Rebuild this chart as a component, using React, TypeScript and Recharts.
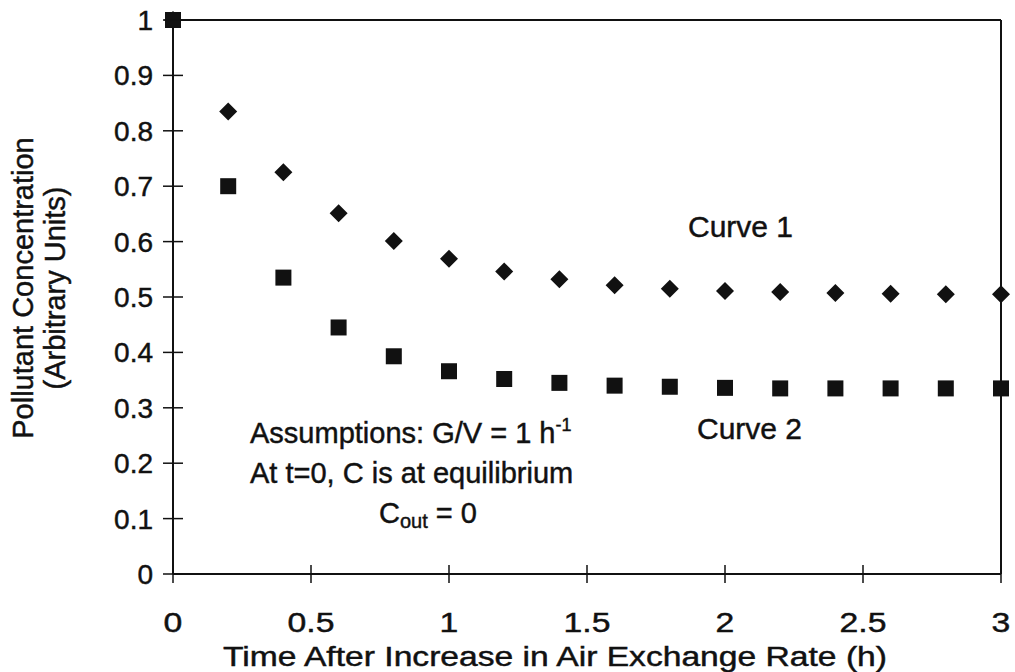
import React from 'react'
import { ScatterChart, Scatter, XAxis, YAxis, ReferenceLine, Customized } from 'recharts'

const FONT = '"Liberation Sans", Arial, Helvetica, sans-serif'
const INK = '#111111'

// time after the increase (h)
const times = [0, 0.2, 0.4, 0.6, 0.8, 1.0, 1.2, 1.4, 1.6, 1.8, 2.0, 2.2, 2.4, 2.6, 2.8, 3.0]
// curve 1 (diamonds)
const curve1 = [1.0, 0.835, 0.725, 0.651, 0.601, 0.569, 0.546, 0.532, 0.521, 0.515, 0.511, 0.509, 0.507, 0.506, 0.505, 0.505]
// curve 2 (squares)
const curve2 = [1.0, 0.70, 0.535, 0.445, 0.393, 0.366, 0.352, 0.345, 0.340, 0.338, 0.336, 0.335, 0.335, 0.335, 0.335, 0.335]

const xTicks = [0, 0.5, 1, 1.5, 2, 2.5, 3]
const yTicks = [0, 0.1, 0.2, 0.3, 0.4, 0.5, 0.6, 0.7, 0.8, 0.9, 1]

const data1 = times.map((t, i) => ({ t, c: curve1[i] }))
const data2 = times.map((t, i) => ({ t, c: curve2[i] }))

// scanned text looks a bit heavier than plain Liberation Sans
const heavy = { stroke: INK, strokeWidth: 0.45 }

const Diamond = (props: any) => {
  const { cx, cy } = props
  const r = 9
  return <path d={`M${cx},${cy - r}L${cx + r},${cy}L${cx},${cy + r}L${cx - r},${cy}Z`} fill={INK} />
}

const Square = (props: any) => {
  const { cx, cy } = props
  return <rect x={cx - 8} y={cy - 8} width={16} height={16} fill={INK} />
}

const YTick = (props: any) => {
  const { x, y, payload } = props
  return (
    <g>
      <line x1={x + 10} x2={x + 30} y1={y} y2={y} stroke={INK} strokeWidth={1.5} />
      <text x={x} y={y} dy="0.36em" textAnchor="end" fontFamily={FONT} fontSize={28} fill={INK} {...heavy}>
        {String(payload.value)}
      </text>
    </g>
  )
}

const XTick = (props: any) => {
  const { x, y, payload } = props
  return (
    <g>
      <line x1={x} x2={x} y1={y - 18} y2={y} stroke={INK} strokeWidth={1.5} />
      <text
        transform={`translate(${x},${y + 49}) scale(1.25,1)`}
        textAnchor="middle"
        fontFamily={FONT}
        fontSize={27}
        fill={INK}
        {...heavy}
      >
        {String(payload.value)}
      </text>
    </g>
  )
}

const Annotations = () => (
  <g fontFamily={FONT} fill={INK} {...heavy}>
    <text x={33} y={288} fontSize={29} textAnchor="middle" transform="rotate(-90 33 288)">
      Pollutant Concentration
    </text>
    <text x={65} y={288} fontSize={29} textAnchor="middle" transform="rotate(-90 65 288)">
      (Arbitrary Units)
    </text>
    <text x={555} y={666} fontSize={27} textAnchor="middle" textLength={664} lengthAdjust="spacingAndGlyphs">
      Time After Increase in Air Exchange Rate (h)
    </text>
    <text x={688} y={237} fontSize={30}>Curve 1</text>
    <text x={697} y={439} fontSize={30}>Curve 2</text>
    <text x={250} y={443} fontSize={29}>
      Assumptions: G/V = 1 h
      <tspan fontSize={18} dy={-12}>-1</tspan>
    </text>
    <text x={250} y={483} fontSize={29}>At t=0, C is at equilibrium</text>
    <text x={379} y={523} fontSize={29}>
      C<tspan fontSize={20} dy={5}>out</tspan>
      <tspan dy={-5}> = 0</tspan>
    </text>
  </g>
)

export default function App() {
  return (
    <div style={{ position: 'absolute', left: 0, top: 0, width: 1015, height: 672, background: '#fff' }}>
      <ScatterChart width={1015} height={672} margin={{ top: 20, right: 14, bottom: 0, left: 0 }}>
        <XAxis
          type="number"
          dataKey="t"
          domain={[0, 3]}
          ticks={xTicks}
          interval={0}
          height={98}
          axisLine={{ stroke: INK, strokeWidth: 2 }}
          tickLine={false}
          tickSize={9}
          tickMargin={0}
          tick={<XTick />}
        />
        <YAxis
          type="number"
          dataKey="c"
          domain={[0, 1]}
          ticks={yTicks}
          interval={0}
          width={173}
          axisLine={{ stroke: INK, strokeWidth: 2 }}
          tickLine={false}
          tickSize={10}
          tickMargin={10}
          tick={<YTick />}
        />
        <ReferenceLine y={1} stroke={INK} strokeWidth={2} />
        <ReferenceLine x={3} stroke={INK} strokeWidth={2} />
        <Scatter data={data1} shape={<Diamond />} isAnimationActive={false} />
        <Scatter data={data2} shape={<Square />} isAnimationActive={false} />
        <Customized component={Annotations} />
      </ScatterChart>
    </div>
  )
}
